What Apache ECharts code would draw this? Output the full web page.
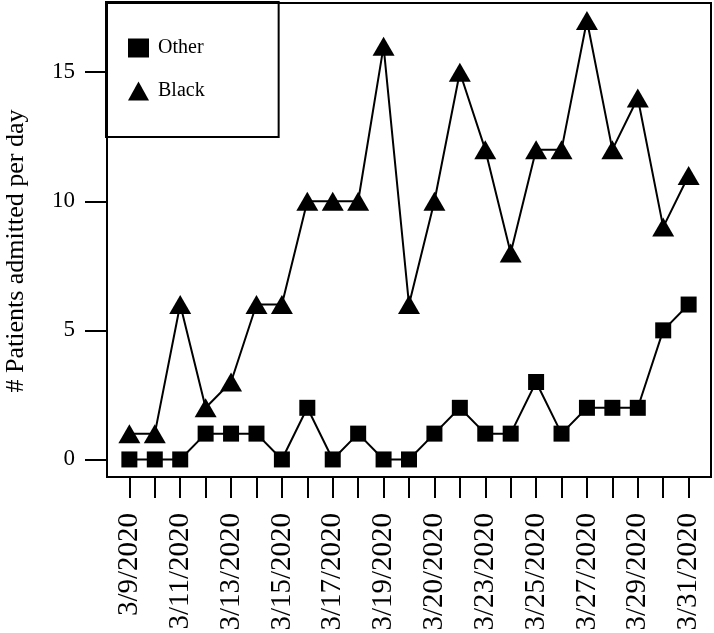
<!DOCTYPE html>
<html>
<head>
<meta charset="utf-8">
<script src="https://cdn.jsdelivr.net/npm/echarts@6/dist/echarts.min.js"></script>
<style>
  html, body { margin: 0; padding: 0; background: #fff; }
  #chart { width: 714px; height: 633px; }
</style>
</head>
<body>
<div id="chart"></div>
<script>
// days from 3/9/2020 to 3/31/2020
const dayIndex = [0, 1, 2, 3, 4, 5, 6, 7, 8, 9, 10, 11, 12, 13, 14, 15, 16, 17, 18, 19, 20, 21, 22]
// tick labels as printed (every second day)
const tickLabels = {
  0: '3/9/2020', 2: '3/11/2020', 4: '3/13/2020', 6: '3/15/2020', 8: '3/17/2020',
  10: '3/19/2020', 12: '3/20/2020', 14: '3/23/2020', 16: '3/25/2020',
  18: '3/27/2020', 20: '3/29/2020', 22: '3/31/2020'
}
const labelDays = [0, 2, 4, 6, 8, 10, 12, 14, 16, 18, 20, 22]
const yTicks = [0, 5, 10, 15]

const otherValues = [0, 0, 0, 1, 1, 1, 0, 2, 0, 1, 0, 0, 1, 2, 1, 1, 3, 1, 2, 2, 2, 5, 6]
const blackValues = [1, 1, 6, 2, 3, 6, 6, 10, 10, 10, 16, 6, 10, 15, 12, 8, 12, 12, 17, 12, 14, 9, 11]

const font = '"Liberation Serif", "DejaVu Serif", serif'
const chart = echarts.init(document.getElementById('chart'))

const option = {
  backgroundColor: '#fff',
  animation: false,
  grid: {
    show: true,
    left: 107,
    right: 3,
    top: 3,
    bottom: 156,
    containLabel: false,
    outerBoundsMode: 'none',
    borderColor: '#000',
    borderWidth: 2,
    backgroundColor: 'transparent'
  },
  legend: {
    orient: 'vertical',
    left: 106,
    top: 2,
    padding: [36, 74, 36, 22],
    itemGap: 23,
    itemWidth: 21,
    itemHeight: 19,
    borderColor: '#000',
    borderWidth: 2,
    textStyle: { fontFamily: font, fontSize: 20, color: '#000', padding: [0, 0, 0, 4] },
    data: [
      { name: 'Other', icon: 'rect' },
      { name: 'Black', icon: 'triangle' }
    ]
  },
  xAxis: {
    type: 'value',
    min: -0.88,
    max: 22.88,
    axisLine: { show: false, onZero: false },
    splitLine: { show: false },
    axisTick: {
      show: true,
      inside: false,
      length: 21,
      customValues: dayIndex,
      lineStyle: { color: '#000', width: 2 }
    },
    axisLabel: {
      customValues: labelDays,
      rotate: 90,
      margin: 36,
      fontFamily: font,
      fontSize: 29,
      color: '#000',
      formatter: (v) => tickLabels[v] || ''
    }
  },
  yAxis: {
    type: 'value',
    min: -0.68,
    max: 17.68,
    name: '# Patients admitted per day',
    nameLocation: 'middle',
    nameGap: 78,
    nameTextStyle: { fontFamily: font, fontSize: 26, color: '#000', padding: [0, 22, 0, 0] },
    axisLine: { show: false, onZero: false },
    splitLine: { show: false },
    axisTick: {
      show: true,
      inside: false,
      length: 22,
      customValues: yTicks,
      lineStyle: { color: '#000', width: 2 }
    },
    axisLabel: {
      customValues: yTicks,
      margin: 32,
      fontFamily: font,
      fontSize: 23,
      color: '#000'
    }
  },
  series: [
    {
      name: 'Black',
      type: 'line',
      data: dayIndex.map((d, i) => [d, blackValues[i]]),
      symbol: 'triangle',
      symbolSize: [22, 19],
      itemStyle: { color: '#000', borderWidth: 0 },
      lineStyle: { color: '#000', width: 2 }
    },
    {
      name: 'Other',
      type: 'line',
      data: dayIndex.map((d, i) => [d, otherValues[i]]),
      symbol: 'rect',
      symbolSize: 16,
      itemStyle: { color: '#000', borderWidth: 0 },
      lineStyle: { color: '#000', width: 2 }
    }
  ]
}

chart.setOption(option)
</script>
</body>
</html>
